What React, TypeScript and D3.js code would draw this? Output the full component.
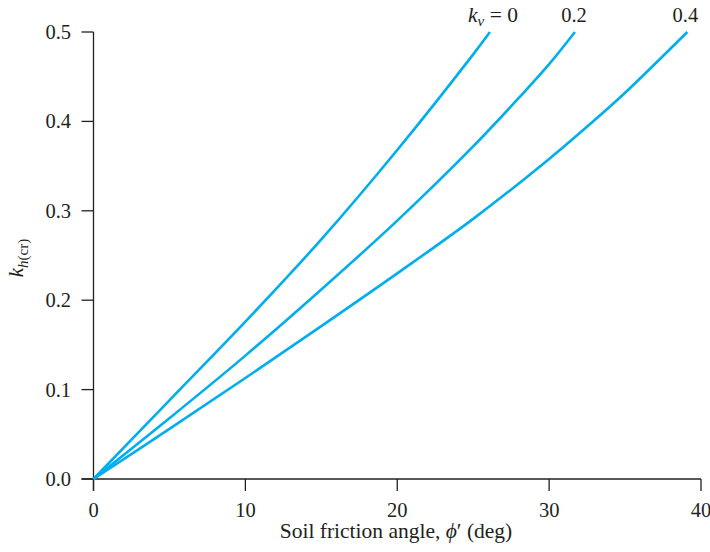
import React from "react";
import * as d3 from "d3";

const phiKv0 = [0, 5, 10, 15, 20, 25, 26.1];
const khKv0 = [0, 0.088, 0.176, 0.268, 0.368, 0.475, 0.5];
const phiKv02 = [0, 5, 10, 15, 20, 25, 28.1, 30, 31.7];
const khKv02 = [0, 0.068, 0.138, 0.212, 0.289, 0.372, 0.428, 0.464, 0.5];
const phiKv04 = [0, 5, 10, 15, 20, 25, 30, 33.3, 35, 39.1];
const khKv04 = [0, 0.056, 0.113, 0.171, 0.23, 0.291, 0.358, 0.406, 0.432, 0.5];

const xTicks = [0, 10, 20, 30, 40];
const yTicks = [0, 0.1, 0.2, 0.3, 0.4, 0.5];
const curveLabels = ["0.2", "0.4"];

const W = 710;
const H = 552;
const FONT = "'Liberation Serif', 'Times New Roman', serif";
const AXIS = "#231F20";
const LINE = "#00AEEF";
const FS = 20.5;

export default function App() {
  const x = d3.scaleLinear().domain([0, 40]).range([93.5, 701]);
  const y = d3.scaleLinear().domain([0, 0.5]).range([479, 32]);
  const line = d3
    .line<[number, number]>()
    .x((d) => x(d[0]))
    .y((d) => y(d[1]))
    .curve(d3.curveCatmullRom.alpha(0.5));

  const series = [
    { phi: phiKv0, kh: khKv0 },
    { phi: phiKv02, kh: khKv02 },
    { phi: phiKv04, kh: khKv04 },
  ];

  const ends = series.map((s) => s.phi[s.phi.length - 1]);

  return (
    <svg width={W} height={H} style={{ position: "absolute", left: 0, top: 0, background: "#fff" }}>
      <rect width={W} height={H} fill="#fff" />
      {/* axes */}
      <line x1={x(0)} x2={x(0)} y1={y(0.5)} y2={y(0) + 12} stroke={AXIS} strokeWidth={1.3} />
      <line x1={x(0) - 12} x2={x(40)} y1={y(0)} y2={y(0)} stroke={AXIS} strokeWidth={1.3} />
      {yTicks.map((t) => (
        <g key={"y" + t}>
          <line x1={x(0) - 12} x2={x(0)} y1={y(t)} y2={y(t)} stroke={AXIS} strokeWidth={1.3} />
          <text x={71} y={y(t) + 7} textAnchor="end" fontFamily={FONT} fontSize={FS} fill={AXIS}>
            {t.toFixed(1)}
          </text>
        </g>
      ))}
      {xTicks.map((t) => (
        <g key={"x" + t}>
          <line x1={x(t)} x2={x(t)} y1={y(0)} y2={y(0) + 12} stroke={AXIS} strokeWidth={1.3} />
          <text x={x(t)} y={517} textAnchor="middle" fontFamily={FONT} fontSize={FS} fill={AXIS}>
            {t}
          </text>
        </g>
      ))}
      {/* curves */}
      {series.map((s, i) => (
        <path
          key={i}
          d={line(s.phi.map((p, j) => [p, s.kh[j]] as [number, number])) || ""}
          fill="none"
          stroke={LINE}
          strokeWidth={2.6}
        />
      ))}
      {/* curve labels */}
      <text x={x(ends[0]) + 28} y={22} textAnchor="end" fontFamily={FONT} fontSize={FS + 1} fill={AXIS}>
        <tspan fontStyle="italic">k</tspan>
        <tspan fontStyle="italic" fontSize={15} dy={4}>v</tspan>
        <tspan dy={-4}> = 0</tspan>
      </text>
      <text x={x(ends[1]) - 1} y={22} textAnchor="middle" fontFamily={FONT} fontSize={FS} fill={AXIS}>
        {curveLabels[0]}
      </text>
      <text x={x(ends[2]) - 2} y={22} textAnchor="middle" fontFamily={FONT} fontSize={FS} fill={AXIS}>
        {curveLabels[1]}
      </text>
      {/* axis titles */}
      <text x={396} y={538} textAnchor="middle" fontFamily={FONT} fontSize={21.5} fill={AXIS}>
        Soil friction angle, <tspan fontStyle="italic">ϕ</tspan>′ (deg)
      </text>
      <text
        transform="translate(23,258) rotate(-90)"
        textAnchor="middle"
        fontFamily={FONT}
        fontSize={21}
        fill={AXIS}
      >
        <tspan fontStyle="italic">k</tspan>
        <tspan fontSize={15} dy={5}>
          <tspan fontStyle="italic">h</tspan>(cr)
        </tspan>
      </text>
    </svg>
  );
}
